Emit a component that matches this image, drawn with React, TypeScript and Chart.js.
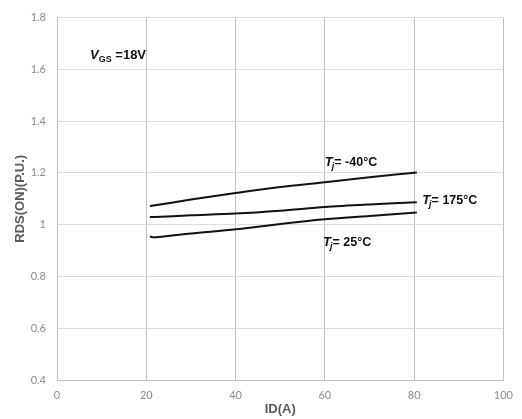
import React, { useEffect, useRef } from "react";
import { Chart, registerables } from "chart.js";

Chart.register(...registerables);

const idValues = [20.8, 22, 30, 40, 50, 60, 70, 80.6];
const rdsMinus40 = [1.072, 1.075, 1.097, 1.122, 1.146, 1.164, 1.183, 1.202];
const rds175 = [1.03, 1.03, 1.036, 1.043, 1.054, 1.068, 1.078, 1.087];
const rds25 = [0.954, 0.951, 0.966, 0.982, 1.003, 1.021, 1.034, 1.047];

const xTickLabels = ["0", "20", "40", "60", "80", "100"];
const yTickLabels = ["0.4", "0.6", "0.8", "1", "1.2", "1.4", "1.6", "1.8"];

// label anchors in data coordinates
const curveLabels = [
  { x: 60.0, y: 1.24, sub: "j", rest: "= -40°C" },
  { x: 81.8, y: 1.094, sub: "j", rest: "= 175°C" },
  { x: 59.6, y: 0.931, sub: "j", rest: "= 25°C" },
];
const vgsLabel = { x: 7.4, y: 1.652 };

const FONT = "'Liberation Sans', Arial, sans-serif";

const labelPlugin = {
  id: "curveLabels",
  afterDraw(chart: any) {
    const ctx = chart.ctx as CanvasRenderingContext2D;
    const xs = chart.scales.x;
    const ys = chart.scales.y;
    ctx.save();
    ctx.fillStyle = "#111";
    ctx.textBaseline = "middle";
    ctx.textAlign = "left";
    for (const l of curveLabels) {
      let px = xs.getPixelForValue(l.x);
      const py = ys.getPixelForValue(l.y);
      ctx.font = `italic bold 13px ${FONT}`;
      ctx.fillText("T", px, py);
      px += ctx.measureText("T").width - 1;
      ctx.font = `italic bold 9px ${FONT}`;
      ctx.fillText(l.sub, px, py + 4);
      px += ctx.measureText(l.sub).width;
      ctx.font = `bold 12.5px ${FONT}`;
      ctx.fillText(l.rest, px, py);
    }
    {
      let px = xs.getPixelForValue(vgsLabel.x);
      const py = ys.getPixelForValue(vgsLabel.y);
      ctx.font = `italic bold 13px ${FONT}`;
      ctx.fillText("V", px, py);
      px += ctx.measureText("V").width;
      ctx.font = `bold 9px ${FONT}`;
      ctx.fillText("GS", px, py + 4);
      px += ctx.measureText("GS").width;
      ctx.font = `bold 13px ${FONT}`;
      ctx.fillText(" =18V", px, py);
    }
    ctx.restore();
  },
};

export default function App() {
  const ref = useRef<HTMLCanvasElement>(null);
  useEffect(() => {
    document.body.style.margin = "0";
    const mk = (ys: number[]) => idValues.map((x, i) => ({ x, y: ys[i] }));
    const ds = (label: string, ys: number[]) => ({
      label,
      data: mk(ys),
      showLine: true,
      borderColor: "#111",
      borderWidth: 2,
      pointRadius: 0,
      tension: 0.3,
      fill: false,
    });
    const chart = new Chart(ref.current!, {
      type: "scatter",
      data: {
        datasets: [ds("Tj=-40°C", rdsMinus40), ds("Tj=175°C", rds175), ds("Tj=25°C", rds25)],
      },
      options: {
        animation: false,
        responsive: false,
        layout: { padding: { top: 13, right: 16, left: 0, bottom: 0 } },
        plugins: { legend: { display: false }, tooltip: { enabled: false } },
        scales: {
          x: {
            type: "linear",
            min: 0,
            max: 100,
            afterBuildTicks: (s: any) => {
              s.ticks = xTickLabels.map((t) => ({ value: Number(t) }));
            },
            afterFit: (s: any) => {
              s.height = 39;
            },
            ticks: {
              color: "#8c8c8c",
              font: { family: "Lato, 'Open Sans', sans-serif", size: 11 },
              padding: 9,
              maxRotation: 0,
              callback: (v: any, i: number) => xTickLabels[i],
            },
            grid: { color: "#c0c0c0", lineWidth: 1, drawTicks: false },
            border: { display: true, color: "#c0c0c0" },
            title: {
              display: true,
              text: "ID(A)",
              color: "#595959",
              font: { family: FONT, size: 13, weight: "bold" },
              padding: { top: 0, bottom: 2 },
            },
          },
          y: {
            type: "linear",
            min: 0.4,
            max: 1.8,
            afterBuildTicks: (s: any) => {
              s.ticks = yTickLabels.map((t) => ({ value: Number(t) }));
            },
            afterFit: (s: any) => {
              s.width = 57;
            },
            ticks: {
              color: "#8c8c8c",
              font: { family: "Lato, 'Open Sans', sans-serif", size: 11 },
              padding: 11,
              callback: (v: any, i: number) => yTickLabels[i],
            },
            grid: { color: "#dcdcdc", lineWidth: 1, drawTicks: false },
            border: { display: true, color: "#c0c0c0" },
            title: {
              display: true,
              text: "RDS(ON)(P.U.)",
              color: "#595959",
              font: { family: FONT, size: 13, weight: "bold" },
              padding: { top: 13, bottom: 0 },
            },
          },
        },
      },
      plugins: [labelPlugin],
    } as any);
    return () => chart.destroy();
  }, []);
  return (
    <div style={{ width: 522, height: 419 }}>
      <canvas ref={ref} width={522} height={419} style={{ display: "block" }} />
    </div>
  );
}
